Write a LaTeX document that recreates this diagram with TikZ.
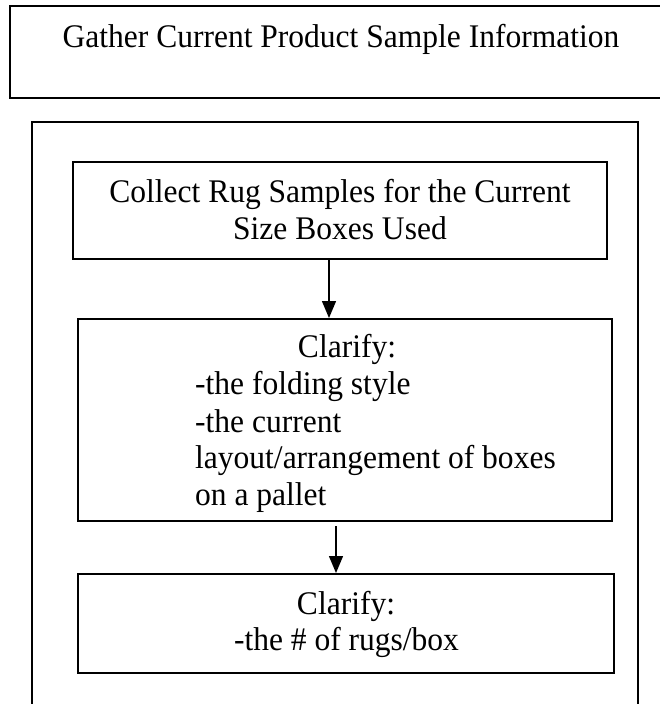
\documentclass[tikz,border=0pt]{standalone}
\usepackage{fontspec}
\setmainfont{Liberation Serif}[FakeStretch=0.955]
\usetikzlibrary{arrows.meta}
\begin{document}
\begin{tikzpicture}[x=1pt,y=-1pt,
  frame/.style={draw, line width=2pt, rectangle, inner sep=0pt},
  txt/.style={font=\fontsize{33}{38}\selectfont, inner sep=0pt, anchor=base},
  ltxt/.style={txt, anchor=base west},
  flow/.style={-{Triangle[length=17pt,width=14pt]}, line width=1.4pt}]
\useasboundingbox (0,0) rectangle (659,704);

% frames
\node[frame, line width=2.5pt, minimum width=660pt, minimum height=92pt] (gather) at (340,52) {};
\node[frame, minimum width=606pt, minimum height=602pt] (group) at (335,423) {};
\node[frame, minimum width=534pt, minimum height=97pt] (collect) at (340,210.5) {};
\node[frame, minimum width=534pt, minimum height=202pt] (clarifyA) at (345,420) {};
\node[frame, minimum width=536pt, minimum height=99pt] (clarifyB) at (346,623.5) {};

% texts
\node[txt] (tGather) at (341,47) {Gather Current Product Sample Information};
\node[txt] (tCollect1) at (340,202) {Collect Rug Samples for the Current};
\node[txt] (tCollect2) at (340,239) {Size Boxes Used};
\node[txt] (tClarA) at (347,357) {Clarify:};
\node[ltxt] (tA1) at (195,394) {-the folding style};
\node[ltxt] (tA2) at (195,432) {-the current};
\node[ltxt] (tA3) at (195,468) {layout/arrangement of boxes};
\node[ltxt] (tA4) at (195,505) {on a pallet};
\node[txt] (tClarB) at (346,614) {Clarify:};
\node[txt] (tB1) at (346.5,650) {-the \# of rugs/box};

% connectors
\draw[flow] ([xshift=-11pt]collect.south) -- ([xshift=-16pt]clarifyA.north);
\draw[flow] ([xshift=-9pt,yshift=-4pt]clarifyA.south) -- ([xshift=-10pt]clarifyB.north);
\end{tikzpicture}
\end{document}
